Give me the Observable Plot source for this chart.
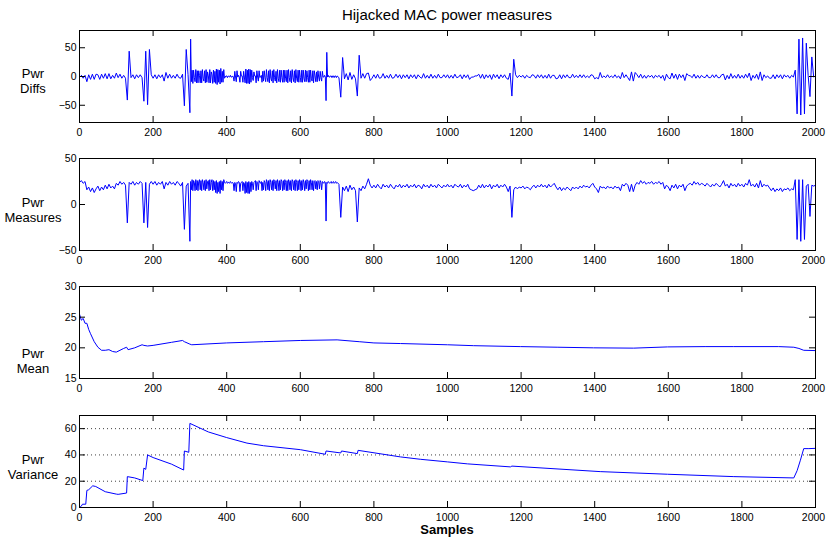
<!DOCTYPE html>
<html><head><meta charset="utf-8">
<script src="https://cdn.jsdelivr.net/npm/d3@7"></script>
<script src="https://cdn.jsdelivr.net/npm/@observablehq/plot@0.6"></script>
<style>
body{margin:0;background:#fff;}
#wrap{position:relative;width:826px;height:538px;overflow:hidden;font-family:"Liberation Sans",Arial,Helvetica,sans-serif;color:#000;}
.panel{position:absolute;left:0;}
.ylab{position:absolute;left:0;width:66px;text-align:center;font-size:13px;line-height:14.5px;}
#title{position:absolute;left:79px;width:736px;text-align:center;top:6px;font-size:15px;line-height:18px;}
#xlab{position:absolute;left:79px;width:736px;text-align:center;top:522px;font-size:13px;font-weight:bold;line-height:16px;}
</style></head><body>
<div id="wrap">
  <div id="title">Hijacked MAC power measures</div>
  <div class="ylab" style="top:67px">Pwr<br>Diffs</div>
  <div class="ylab" style="top:196px">Pwr<br>Measures</div>
  <div class="ylab" style="top:347px">Pwr<br>Mean</div>
  <div class="ylab" style="top:453px">Pwr<br>Variance</div>
  <div id="xlab">Samples</div>
</div>
<script>
// ---- data ----
// power measures in three segments: [start sample, step between listed samples]
const segStarts = [0, 300, 700];
const segSteps = [5, 2, 5];
const measSegA = [
  24,26,23,25,
  16,19,14,18,13,17,20,15,19,16,21,17,22,18,20,17,
  23,21,25,22,24,21,-20,24,22,25,21,24,22,25,23,-20,24,-25,22,25,
  22,25,21,24,22,25,17,24,21,25,22,24,21,25,23,20,24,-27,20,23
];
const measSegB = [
  -40,25,16,27,15,26,24,15,27,16,26,15,25,27,16,26,15,27,24,16,
  26,15,27,17,25,26,15,27,16,24,27,15,26,16,25,13,26,12,24,14,
  25,12,26,16,25,15,27,24,23,24,25,23,24,24,23,25,24,23,24,23,
  15,24,23,14,24,23,25,24,14,23,24,25,15,24,23,12,25,13,24,12,
  25,12,24,14,25,23,16,24,25,26,15,25,24,16,26,24,23,25,15,24,
  16,26,24,15,27,25,16,26,15,27,24,16,26,15,27,25,17,26,15,27,
  24,15,26,16,27,25,15,26,16,27,24,15,26,15,27,25,16,26,15,27,
  25,16,26,15,27,24,15,26,16,27,25,15,26,16,27,24,15,26,17,27,
  25,15,26,16,27,24,16,26,15,25,26,17,25,16,26,25,17,26,24,16,
  25,24,23,25,24,-18,24,23,25,24,23,24,25,23,24,25,23,24,25,23
];
const measSegC = [
  24,22,-14,19,15,20,14,21,16,19,15,-19,18,15,20,17,22,28,21,18,
  21,18,22,19,17,22,19,21,18,22,19,17,21,19,22,18,21,19,22,18,
  21,19,22,18,21,20,17,22,19,21,18,22,19,21,18,22,20,18,21,19,
  22,19,21,18,22,20,19,22,18,21,19,22,17,16,15,16,17,21,18,22,
  18,21,19,22,17,21,19,22,18,21,19,22,19,14,20,-14,16,19,17,19,
  18,20,17,19,18,16,19,21,18,21,19,22,19,21,18,22,19,21,23,19,
  16,19,15,18,16,19,17,15,19,17,19,17,20,18,21,19,20,18,21,23,
  19,17,13,20,18,19,17,20,18,19,17,20,18,19,15,22,20,23,21,14,
  22,14,21,24,22,26,23,25,22,24,23,25,22,24,23,25,22,24,17,21,
  19,15,21,18,22,17,21,19,22,15,20,22,23,21,25,22,24,21,23,22,
  20,23,21,19,22,20,23,21,19,22,26,20,22,18,23,20,22,19,23,20,
  22,19,23,21,27,20,22,19,23,18,26,19,22,20,21,18,15,18,14,17,
  15,18,14,17,16,18,15,17,16,27,-38,27,-40,27,-38,20,22,-13,21,20,
  21
];
const meanX = [0,5,10,15,20,25,30,40,50,60,70,80,90,100,110,120,128,132,150,170,175,185,200,250,280,285,300,305,400,500,600,700,760,800,872,1000,1071,1198,1300,1397,1506,1598,1700,1778,1900,1941,1955,1968,2000];
const meanY = [25.5,24.5,24.8,24,24,23,22.3,21,20.1,19.6,19.6,19.7,19.4,19.3,19.6,19.9,20.1,19.7,20.0,20.5,20.4,20.3,20.4,20.9,21.2,21.0,20.6,20.5,20.8,21.0,21.2,21.3,21.0,20.8,20.7,20.5,20.35,20.2,20.1,20.0,19.95,20.15,20.2,20.2,20.2,20.1,19.9,19.6,19.55];
const varX = [0,5,8,17,20,25,36,44,70,100,105,128,130,150,172,175,180,185,200,250,283,285,297,300,350,400,455,500,600,668,670,710,712,755,757,872,926,1000,1054,1171,1175,1415,1598,1778,1941,1950,1959,1968,1982,2000];
const varY = [0,1,2.5,2.5,13,13.5,16.5,16,12,10.2,10,11,23.5,22.5,20.5,30,29,40,38,33,28.5,43,42,64,57.5,53.2,49,47,44,40.5,43,41.5,43,41,43.5,38.5,36.7,34.7,33.2,30.9,31.5,27.3,25.3,23.5,22.5,28,36,44.8,44.8,45];

const xTicks = [0,200,400,600,800,1000,1200,1400,1600,1800,2000];
const diffTicks = [-50,0,50];
const measTicks = [-50,0,50];
const meanTicks = [15,20,25,30];
const varTicks = [0,20,40,60];
const varGrid = [20,40,60];

// ---- tables built from the arrays ----
const measData = [measSegA, measSegB, measSegC].flatMap((seg, k) =>
  seg.map((v, i) => ({x: segStarts[k] + i * segSteps[k], y: v})));
const diffData = measData.slice(1).map((d, i) => ({x: d.x, y: d.y - measData[i].y}));
const meanData = meanX.map((x, i) => ({x, y: meanY[i]}));
const varData = varX.map((x, i) => ({x, y: varY[i]}));

const W = 826, ML = 79, MR = 11, TICK = 6;
const fmt = d3.format("d");
function panel({top, height, mt, mb, data, yDomain, yTicks, grid}) {
  const ph = height - mt - mb, pw = W - ML - MR;
  const svg = Plot.plot({
    width: W, height, marginLeft: ML, marginRight: MR, marginTop: mt, marginBottom: mb,
    style: {fontFamily: '"Liberation Sans",Arial,Helvetica,sans-serif', fontSize: "10.5px", background: "transparent", overflow: "visible", color: "#000"},
    x: {domain: [0, 2000], label: null},
    y: {domain: yDomain, label: null},
    marks: [
      grid ? Plot.gridY(grid, {stroke: "#000", strokeOpacity: 0.75, strokeDasharray: "1,3"}) : null,
      Plot.line(data, {x: "x", y: "y", stroke: "#0000ff", strokeWidth: 1, clip: true}),
      Plot.tickX(xTicks, {x: d => d, insetBottom: ph - TICK, stroke: "#000"}),
      Plot.tickX(xTicks, {x: d => d, insetTop: ph - TICK, stroke: "#000"}),
      Plot.tickY(yTicks, {y: d => d, insetRight: pw - TICK, stroke: "#000"}),
      Plot.tickY(yTicks, {y: d => d, insetLeft: pw - TICK, stroke: "#000"}),
      Plot.axisX(xTicks.slice(0, -1), {tickSize: 0, tickPadding: 6, fill: "#000", tickFormat: fmt}),
      Plot.axisX(xTicks.slice(-1), {tickSize: 0, tickPadding: 6, fill: "#000", tickFormat: fmt, dx: -2}),
      Plot.axisY(yTicks, {tickSize: 0, tickPadding: 3, fill: "#000", tickFormat: fmt}),
      Plot.frame({stroke: "#000"})
    ]
  });
  svg.classList.add("panel");
  svg.style.position = "absolute";
  svg.style.top = top + "px";
  svg.style.left = "0px";
  document.getElementById("wrap").appendChild(svg);
}
panel({top: 0, height: 140, mt: 30, mb: 18, data: diffData, yDomain: [-80, 80], yTicks: diffTicks});
panel({top: 140, height: 128, mt: 18, mb: 18, data: measData, yDomain: [-50, 50], yTicks: measTicks});
panel({top: 268, height: 128, mt: 18, mb: 18, data: meanData, yDomain: [15, 30], yTicks: meanTicks});
panel({top: 397, height: 141, mt: 18, mb: 31, data: varData, yDomain: [0, 70], yTicks: varTicks, grid: varGrid});
</script>
</body></html>
